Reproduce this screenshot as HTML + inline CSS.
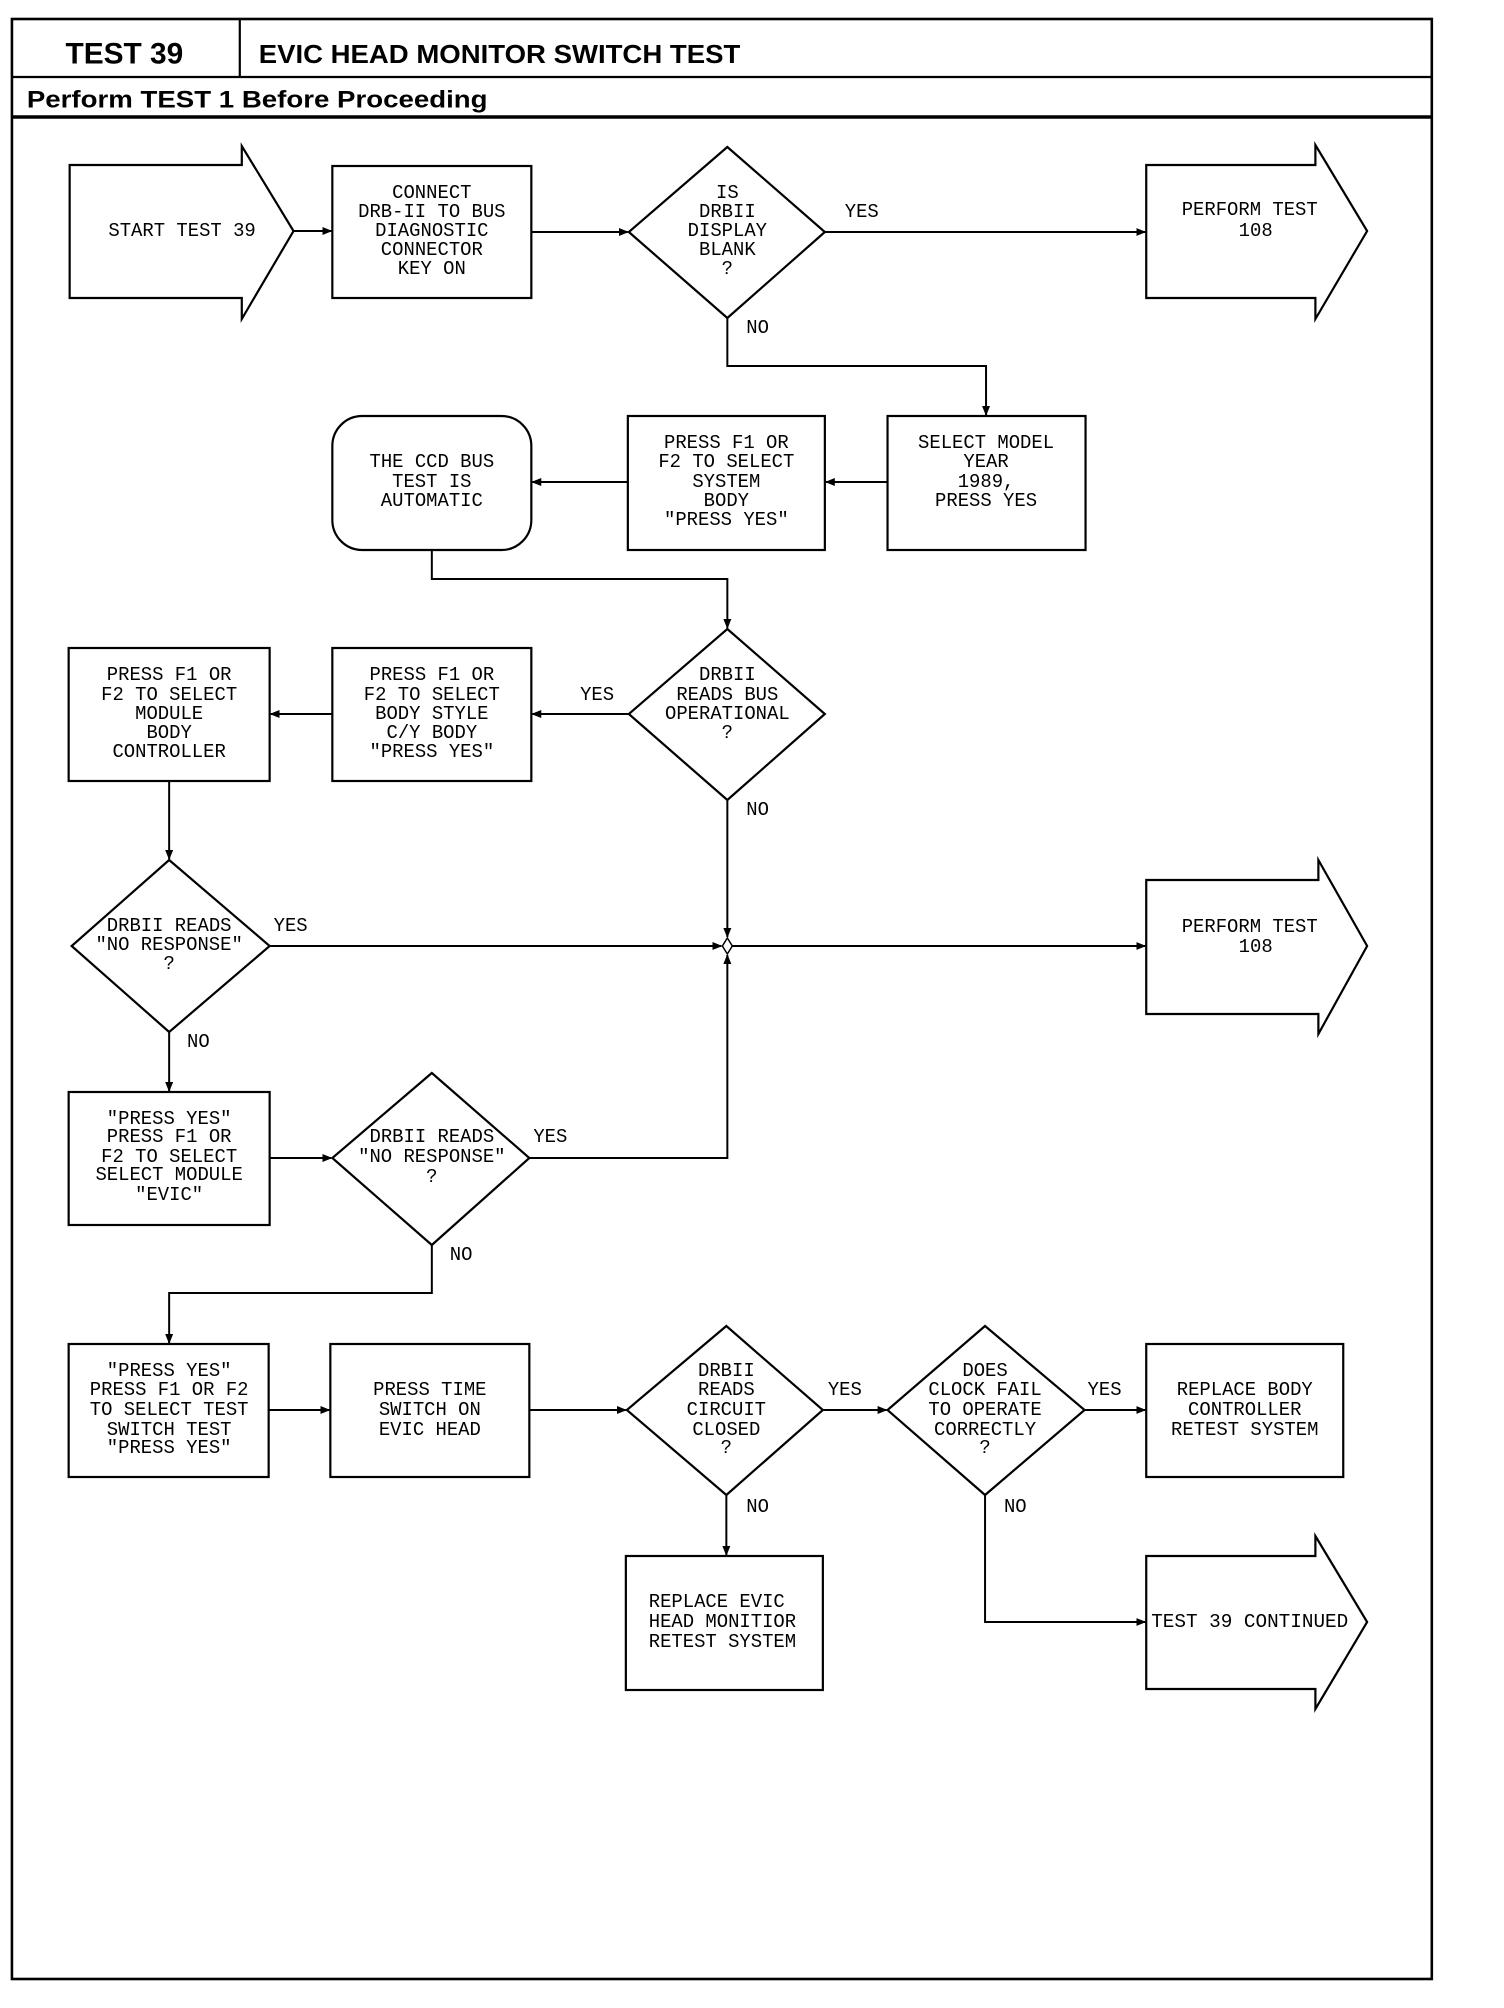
<!DOCTYPE html>
<html><head><meta charset="utf-8"><style>
html,body{margin:0;padding:0;background:#fff;}
svg{display:block;}
.t{font-family:"Liberation Mono",monospace;font-size:19px;fill:#000;text-anchor:middle;dominant-baseline:central;}
.l{font-family:"Liberation Mono",monospace;font-size:19px;fill:#000;dominant-baseline:central;}
.h{font-family:"Liberation Sans",sans-serif;font-weight:bold;fill:#000;dominant-baseline:central;}
</style></head><body>
<svg width="1504" height="2008" viewBox="0 0 1504 2008" xmlns="http://www.w3.org/2000/svg">
<defs>
<marker id="a" markerWidth="10" markerHeight="10" refX="9" refY="5" orient="auto" markerUnits="userSpaceOnUse">
<path d="M0,1 L10,5 L0,9 Z" fill="#000"/></marker>
</defs>
<g transform="scale(0.995,1)">
<g fill="none" stroke="#000" stroke-width="2.2">
<rect x="12" y="19" width="1427" height="1960" stroke-width="2.6"/>
<line x1="12" y1="77" x2="1439" y2="77"/>
<line x1="12" y1="117" x2="1439" y2="117" stroke-width="3.5"/>
<line x1="241" y1="19" x2="241" y2="77"/>

<path d="M70,165 H243 V146 L295,231 L243,319 V298 H70 Z"/>
<rect x="334" y="166" width="200" height="132"/>
<path d="M731,147 L829,232 L731,318 L632,232 Z"/>
<path d="M1152,165 H1322 V145 L1374,231 L1322,319 V298 H1152 Z"/>

<rect x="892" y="416" width="199" height="134"/>
<rect x="631" y="416" width="198" height="134"/>
<rect x="334" y="416" width="200" height="134" rx="30"/>

<path d="M731,629 L829,714 L731,800 L632,714 Z"/>
<rect x="334" y="648" width="200" height="133"/>
<rect x="69" y="648" width="202" height="133"/>

<path d="M170,860 L271,946 L170,1032 L72,946 Z"/>
<path d="M731,938 L736,946 L731,954 L726,946 Z" stroke-width="1.5"/>
<path d="M1152,880 H1325 V860 L1374,946 L1325,1034 V1014 H1152 Z"/>

<rect x="69" y="1092" width="202" height="133"/>
<path d="M434,1073 L532,1158 L434,1245 L334,1158 Z"/>

<rect x="69" y="1344" width="201" height="133"/>
<rect x="332" y="1344" width="200" height="133"/>
<path d="M730,1326 L827,1410 L730,1495 L630,1410 Z"/>
<path d="M990,1326 L1090,1410 L990,1495 L892,1410 Z"/>
<rect x="1152" y="1344" width="198" height="133"/>
<rect x="629" y="1556" width="198" height="134"/>
<path d="M1152,1556 H1322 V1536 L1374,1622 L1322,1709 V1689 H1152 Z"/>
</g>

<g fill="none" stroke="#000" stroke-width="2" marker-end="url(#a)">
<line x1="295" y1="231" x2="333" y2="231"/>
<line x1="534" y1="232" x2="631" y2="232"/>
<line x1="829" y1="232" x2="1151" y2="232"/>
<polyline points="731,318 731,366 991,366 991,415"/>
<line x1="892" y1="482" x2="830" y2="482"/>
<line x1="631" y1="482" x2="535" y2="482"/>
<polyline points="434,550 434,579 731,579 731,628"/>
<line x1="632" y1="714" x2="535" y2="714"/>
<line x1="334" y1="714" x2="272" y2="714"/>
<line x1="170" y1="781" x2="170" y2="859"/>
<line x1="271" y1="946" x2="725" y2="946"/>
<line x1="731" y1="800" x2="731" y2="937"/>
<line x1="736" y1="946" x2="1151" y2="946"/>
<line x1="170" y1="1032" x2="170" y2="1091"/>
<line x1="271" y1="1158" x2="333" y2="1158"/>
<polyline points="532,1158 731,1158 731,955"/>
<polyline points="434,1245 434,1293 170,1293 170,1343"/>
<line x1="270" y1="1410" x2="331" y2="1410"/>
<line x1="532" y1="1410" x2="629" y2="1410"/>
<line x1="827" y1="1410" x2="891" y2="1410"/>
<line x1="1090" y1="1410" x2="1151" y2="1410"/>
<line x1="730" y1="1495" x2="730" y2="1555"/>
<polyline points="990,1495 990,1622 1151,1622"/>
</g>

<text class="h" x="125" y="54" font-size="30" text-anchor="middle">TEST 39</text>
<text class="h" x="260" y="55" font-size="26" textLength="484" lengthAdjust="spacingAndGlyphs">EVIC HEAD MONITOR SWITCH TEST</text>
<text class="h" x="27" y="100" font-size="24" textLength="463" lengthAdjust="spacingAndGlyphs">Perform TEST 1 Before Proceeding</text>

<text class="t" x="183" y="231">START TEST 39</text>
<text class="t" x="434" y="193">CONNECT</text>
<text class="t" x="434" y="212">DRB-II TO BUS</text>
<text class="t" x="434" y="231">DIAGNOSTIC</text>
<text class="t" x="434" y="250">CONNECTOR</text>
<text class="t" x="434" y="269">KEY ON</text>

<text class="t" x="731" y="193">IS</text>
<text class="t" x="731" y="212">DRBII</text>
<text class="t" x="731" y="231">DISPLAY</text>
<text class="t" x="731" y="250">BLANK</text>
<text class="t" x="731" y="269">?</text>
<text class="l" x="849" y="212">YES</text>
<text class="l" x="750" y="328">NO</text>

<text class="t" x="1256" y="210">PERFORM TEST</text>
<text class="t" x="1262" y="231">108</text>

<text class="t" x="991" y="443">SELECT MODEL</text>
<text class="t" x="991" y="462">YEAR</text>
<text class="t" x="991" y="482">1989,</text>
<text class="t" x="991" y="501">PRESS YES</text>

<text class="t" x="730" y="443">PRESS F1 OR</text>
<text class="t" x="730" y="462">F2 TO SELECT</text>
<text class="t" x="730" y="482">SYSTEM</text>
<text class="t" x="730" y="501">BODY</text>
<text class="t" x="730" y="520">"PRESS YES"</text>

<text class="t" x="434" y="462">THE CCD BUS</text>
<text class="t" x="434" y="482">TEST IS</text>
<text class="t" x="434" y="501">AUTOMATIC</text>

<text class="t" x="731" y="675">DRBII</text>
<text class="t" x="731" y="695">READS BUS</text>
<text class="t" x="731" y="714">OPERATIONAL</text>
<text class="t" x="731" y="733">?</text>
<text class="l" x="583" y="695">YES</text>
<text class="l" x="750" y="810">NO</text>

<text class="t" x="434" y="675">PRESS F1 OR</text>
<text class="t" x="434" y="695">F2 TO SELECT</text>
<text class="t" x="434" y="714">BODY STYLE</text>
<text class="t" x="434" y="733">C/Y BODY</text>
<text class="t" x="434" y="752">"PRESS YES"</text>

<text class="t" x="170" y="675">PRESS F1 OR</text>
<text class="t" x="170" y="695">F2 TO SELECT</text>
<text class="t" x="170" y="714">MODULE</text>
<text class="t" x="170" y="733">BODY</text>
<text class="t" x="170" y="752">CONTROLLER</text>

<text class="t" x="170" y="926">DRBII READS</text>
<text class="t" x="170" y="945">"NO RESPONSE"</text>
<text class="t" x="170" y="964">?</text>
<text class="l" x="275" y="926">YES</text>
<text class="l" x="188" y="1042">NO</text>

<text class="t" x="1256" y="927">PERFORM TEST</text>
<text class="t" x="1262" y="947">108</text>

<text class="t" x="170" y="1119">"PRESS YES"</text>
<text class="t" x="170" y="1137">PRESS F1 OR</text>
<text class="t" x="170" y="1157">F2 TO SELECT</text>
<text class="t" x="170" y="1175">SELECT MODULE</text>
<text class="t" x="170" y="1195">"EVIC"</text>

<text class="t" x="434" y="1137">DRBII READS</text>
<text class="t" x="434" y="1157">"NO RESPONSE"</text>
<text class="t" x="434" y="1177">?</text>
<text class="l" x="536" y="1137">YES</text>
<text class="l" x="452" y="1255">NO</text>

<text class="t" x="170" y="1371">"PRESS YES"</text>
<text class="t" x="170" y="1390">PRESS F1 OR F2</text>
<text class="t" x="170" y="1410">TO SELECT TEST</text>
<text class="t" x="170" y="1430">SWITCH TEST</text>
<text class="t" x="170" y="1448">"PRESS YES"</text>

<text class="t" x="432" y="1390">PRESS TIME</text>
<text class="t" x="432" y="1410">SWITCH ON</text>
<text class="t" x="432" y="1430">EVIC HEAD</text>

<text class="t" x="730" y="1371">DRBII</text>
<text class="t" x="730" y="1390">READS</text>
<text class="t" x="730" y="1410">CIRCUIT</text>
<text class="t" x="730" y="1430">CLOSED</text>
<text class="t" x="730" y="1448">?</text>
<text class="l" x="832" y="1390">YES</text>
<text class="l" x="750" y="1507">NO</text>

<text class="t" x="990" y="1371">DOES</text>
<text class="t" x="990" y="1390">CLOCK FAIL</text>
<text class="t" x="990" y="1410">TO OPERATE</text>
<text class="t" x="990" y="1430">CORRECTLY</text>
<text class="t" x="990" y="1448">?</text>
<text class="l" x="1093" y="1390">YES</text>
<text class="l" x="1009" y="1507">NO</text>

<text class="t" x="1251" y="1390">REPLACE BODY</text>
<text class="t" x="1251" y="1410">CONTROLLER</text>
<text class="t" x="1251" y="1430">RETEST SYSTEM</text>

<text class="l" x="652" y="1602">REPLACE EVIC</text>
<text class="l" x="652" y="1622">HEAD MONITIOR</text>
<text class="l" x="652" y="1642">RETEST SYSTEM</text>

<text class="l" x="1157" y="1622" textLength="198" lengthAdjust="spacingAndGlyphs">TEST 39 CONTINUED</text>
</g>
</svg>
</body></html>
